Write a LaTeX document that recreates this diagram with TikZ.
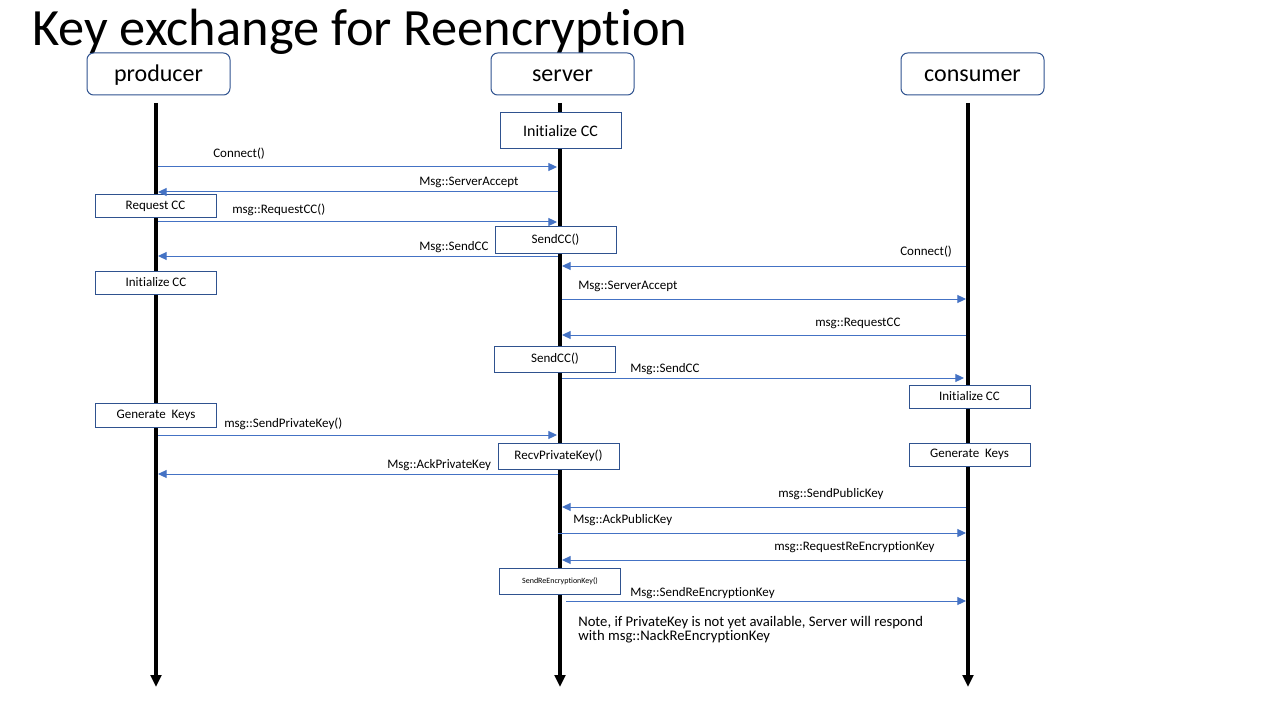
\documentclass[tikz,border=0pt]{standalone}
\usepackage{fontspec}
\setmainfont{Carlito}[Ligatures={NoCommon,NoContextual}]
\usetikzlibrary{arrows.meta}
\definecolor{boxblue}{HTML}{2F528F}
\definecolor{arrblue}{HTML}{4472C4}
\newcommand\msgline[4]{%
  \coordinate (#1a) at (#2,#4);
  \coordinate (#1b) at (#3,#4);
  \draw[msg] (#1a) -- (#1b);}
\begin{document}
\begin{tikzpicture}[x=0.75pt,y=-0.75pt,
  header/.style={draw=boxblue, line width=0.75pt, rounded corners=5pt, fill=white,
    minimum width=107.25pt, minimum height=31.5pt, inner sep=0, text height=14.5pt, text depth=3pt,
    font=\fontsize{18}{20}\selectfont},
  actbox/.style={draw=boxblue, line width=0.75pt, fill=white, inner sep=0,
    minimum width=90.75pt, font=\fontsize{9.75}{11}\selectfont},
  life/.style={line width=3pt, -{Triangle[width=8pt,length=9pt]}},
  msg/.style={draw=arrblue, line width=0.75pt, -{Triangle[width=6pt,length=6.5pt]}},
  lbl/.style={anchor=base west, inner sep=0, font=\fontsize{9.75}{11}\selectfont}]
\useasboundingbox (0,0) rectangle (1280,720);
\fill[white] (0,0) rectangle (1280,720);

\node[anchor=base west, inner sep=0, font=\fontsize{39.3}{47}\selectfont] (title) at (32,46) {Key exchange for Reencryption};

\node[header] (prod) at (158.5,74) {producer};
\node[header] (serv) at (562.5,74) {server};
\node[header] (cons) at (972.5,74) {consumer};

\coordinate (ptop) at (156,103); \coordinate (pbot) at (156,687);
\coordinate (stop) at (560,103); \coordinate (sbot) at (560,687);
\coordinate (ctop) at (968,103); \coordinate (cbot) at (968,687);
\draw[life] (ptop) -- (pbot);
\draw[life] (stop) -- (sbot);
\draw[life] (ctop) -- (cbot);

\node[actbox, minimum height=27pt, font=\fontsize{12}{14}\selectfont] (initS) at (560.5,131) {Initialize CC};
\node[actbox, minimum height=17.25pt] (reqP) at (155.5,206.5) {Request CC};
\node[actbox, minimum height=19.5pt] (sendS1) at (555.5,240) {SendCC()};
\node[actbox, minimum height=17.25pt] (initP) at (156,282.5) {Initialize CC};
\node[actbox, minimum height=19.5pt] (sendS2) at (555,359) {SendCC()};
\node[actbox, minimum height=17.25pt] (initC) at (969.5,396.5) {Initialize CC};
\node[actbox, minimum height=18pt] (genP) at (156,415) {Generate~ Keys};
\node[actbox, minimum height=19.5pt] (recvS) at (558.5,456) {RecvPrivateKey()};
\node[actbox, minimum height=17.25pt] (genC) at (969.5,454.5) {Generate~ Keys};
\node[actbox, minimum height=19.5pt, font=\fontsize{6}{7}\selectfont] (srkS) at (560,581) {SendReEncryptionKey()};

\msgline{m1}{158}{557}{167}
\msgline{m2}{558}{158}{192}
\msgline{m3}{158}{557}{222}
\msgline{m4}{558}{158}{256}
\msgline{m5}{966}{562}{266}
\msgline{m6}{562}{966}{299}
\msgline{m7}{966}{562}{335}
\msgline{m8}{562}{964}{378}
\msgline{m9}{158}{557}{435}
\msgline{m10}{558}{158}{474}
\msgline{m11}{966}{562}{507}
\msgline{m12}{558}{966}{533}
\msgline{m13}{966}{562}{560}
\msgline{m14}{566}{966}{601}

\node[lbl] (l1) at (213,158) {Connect()};
\node[lbl] (l2) at (419,186) {Msg::ServerAccept};
\node[lbl] (l3) at (232,214) {msg::RequestCC()};
\node[lbl] (l4) at (419,251) {Msg::SendCC};
\node[lbl] (l5) at (900,255) {Connect()};
\node[lbl] (l6) at (578,289) {Msg::ServerAccept};
\node[lbl] (l7) at (815,326) {msg::RequestCC};
\node[lbl] (l8) at (630,372) {Msg::SendCC};
\node[lbl] (l9) at (224,427) {msg::SendPrivateKey()};
\node[lbl] (l10) at (387,468) {Msg::AckPrivateKey};
\node[lbl] (l11) at (778,497) {msg::SendPublicKey};
\node[lbl] (l12) at (573,523) {Msg::AckPublicKey};
\node[lbl] (l13) at (774,550) {msg::RequestReEncryptionKey};
\node[lbl] (l14) at (630,596) {Msg::SendReEncryptionKey};

\node[anchor=base west, inner sep=0, align=left, font=\fontsize{11}{10.5}\selectfont] (note) at (578,640)
  {Note, if PrivateKey is not yet available, Server will respond\\with msg::NackReEncryptionKey};
\end{tikzpicture}
\end{document}
